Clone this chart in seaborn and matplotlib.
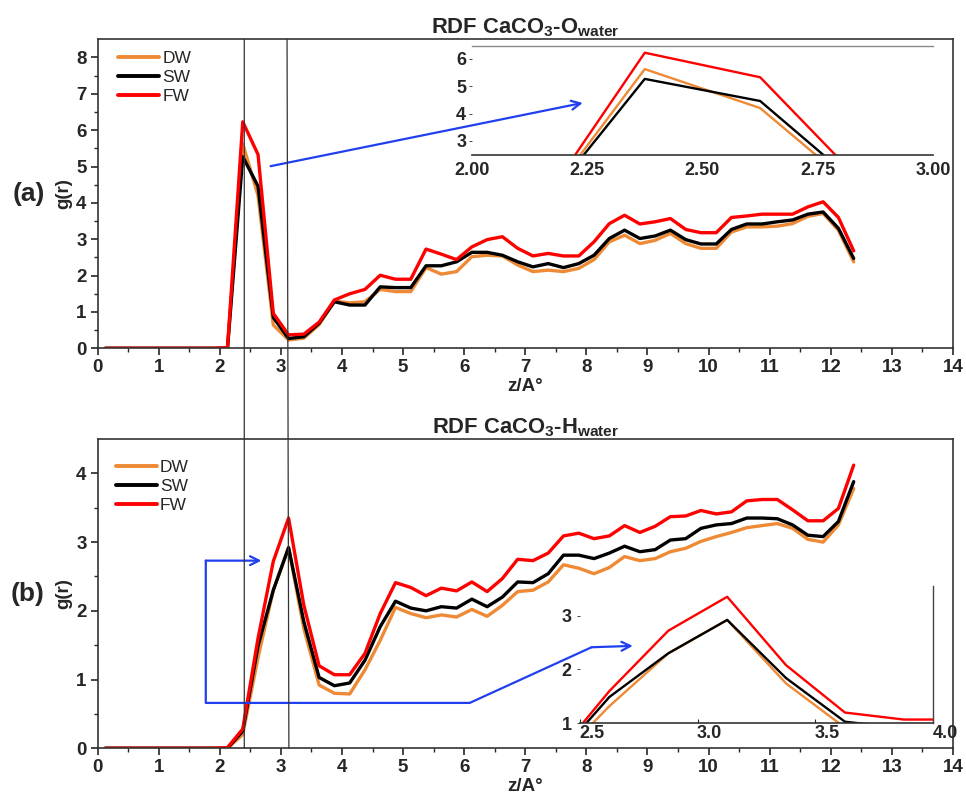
import numpy as np
import pandas as pd
import matplotlib
matplotlib.use("Agg")
import matplotlib.pyplot as plt
import seaborn as sns
from matplotlib.patches import ConnectionPatch
from matplotlib.transforms import ScaledTranslation

# ---------------- data ----------------
# distance grid (bin centres, Angstrom)
z = np.arange(0.125, 12.5, 0.25)

series = ["DW", "SW", "FW"]
colors = {"DW": "#EE8A35", "SW": "#000000", "FW": "#FF0000"}

# RDF CaCO3 - O(water)
o_dw = [0, 0, 0, 0, 0, 0, 0, 0, 0.0, 5.63, 4.20, 0.64, 0.23, 0.28, 0.65, 1.30,
        1.25, 1.28, 1.62, 1.56, 1.56, 2.22, 2.04, 2.11, 2.52, 2.56, 2.54, 2.29,
        2.11, 2.15, 2.11, 2.20, 2.44, 2.93, 3.11, 2.88, 2.97, 3.16, 2.88, 2.75,
        2.75, 3.20, 3.34, 3.34, 3.36, 3.43, 3.63, 3.71, 3.25, 2.38]
o_sw = [0, 0, 0, 0, 0, 0, 0, 0, 0.0, 5.27, 4.46, 0.85, 0.27, 0.32, 0.69, 1.28,
        1.19, 1.19, 1.69, 1.67, 1.67, 2.27, 2.27, 2.38, 2.64, 2.64, 2.56, 2.38,
        2.24, 2.33, 2.22, 2.33, 2.56, 3.02, 3.25, 3.02, 3.09, 3.25, 2.99, 2.87,
        2.87, 3.27, 3.42, 3.42, 3.48, 3.53, 3.69, 3.75, 3.30, 2.47]
o_fw = [0, 0, 0, 0, 0, 0, 0, 0, 0.02, 6.23, 5.33, 0.96, 0.37, 0.39, 0.72, 1.33,
        1.50, 1.62, 2.01, 1.90, 1.90, 2.73, 2.59, 2.44, 2.79, 2.99, 3.07, 2.75,
        2.54, 2.61, 2.54, 2.54, 2.93, 3.43, 3.66, 3.42, 3.48, 3.57, 3.27, 3.18,
        3.18, 3.60, 3.64, 3.69, 3.69, 3.69, 3.89, 4.03, 3.60, 2.68]

# RDF CaCO3 - H(water)
h_dw = [0, 0, 0, 0, 0, 0, 0, 0, 0.0, 0.20, 1.32, 2.30, 2.92, 1.74, 0.92, 0.80,
        0.79, 1.14, 1.57, 2.05, 1.96, 1.90, 1.94, 1.91, 2.02, 1.92, 2.08, 2.28,
        2.30, 2.42, 2.67, 2.62, 2.54, 2.63, 2.79, 2.73, 2.76, 2.86, 2.91, 3.01,
        3.08, 3.14, 3.21, 3.24, 3.27, 3.20, 3.04, 3.00, 3.25, 3.78]
h_sw = [0, 0, 0, 0, 0, 0, 0, 0, 0.0, 0.25, 1.49, 2.30, 2.92, 1.84, 1.03, 0.91,
        0.95, 1.28, 1.77, 2.14, 2.04, 2.00, 2.06, 2.04, 2.17, 2.06, 2.20, 2.42,
        2.41, 2.54, 2.81, 2.81, 2.76, 2.84, 2.94, 2.86, 2.89, 3.03, 3.05, 3.20,
        3.25, 3.27, 3.35, 3.35, 3.34, 3.25, 3.10, 3.08, 3.30, 3.88]
h_fw = [0, 0, 0, 0, 0, 0, 0, 0, 0.01, 0.28, 1.60, 2.72, 3.35, 2.08, 1.20, 1.07,
        1.07, 1.38, 1.96, 2.41, 2.34, 2.22, 2.33, 2.29, 2.42, 2.28, 2.47, 2.75,
        2.73, 2.84, 3.09, 3.13, 3.05, 3.09, 3.24, 3.14, 3.23, 3.37, 3.38, 3.46,
        3.41, 3.44, 3.60, 3.62, 3.62, 3.47, 3.31, 3.31, 3.49, 4.12]

x_ticks = list(range(0, 15))
o_yticks = list(range(0, 9))
h_yticks = list(range(0, 5))
o_inset_xticks = [2.00, 2.25, 2.50, 2.75, 3.00]
o_inset_yticks = [3, 4, 5, 6]
h_inset_xticks = [2.5, 3.0, 3.5, 4.0]
h_inset_yticks = [1, 2, 3]


def long_frame(dw, sw, fw):
    frames = []
    for name, vals in zip(series, (dw, sw, fw)):
        frames.append(pd.DataFrame({"z": z, "g": vals, "water": name}))
    return pd.concat(frames, ignore_index=True)


df_o = long_frame(o_dw, o_sw, o_fw)
df_h = long_frame(h_dw, h_sw, h_fw)

# ---------------- style ----------------
sns.set_style("ticks")
plt.rcParams["font.family"] = ["Liberation Sans", "DejaVu Sans"]
plt.rcParams["mathtext.default"] = "regular"
plt.rcParams["axes.linewidth"] = 1.2

fig = plt.figure(figsize=(9.66, 8.02), dpi=100)
ax1 = fig.add_axes([0.1011, 0.5657, 0.8854, 0.3853])
ax2 = fig.add_axes([0.1011, 0.0670, 0.8854, 0.3856])

TICK_FS = 13.5


def style_main(ax, df, ymax, yticks, title, tag, legend_anchor):
    sns.lineplot(data=df, x="z", y="g", hue="water", palette=colors,
                 hue_order=series, linewidth=2.4, ax=ax, sort=False)
    ax.set_xlim(0, 14)
    ax.set_ylim(0, ymax)
    ax.set_xticks(x_ticks)
    ax.set_yticks(yticks)
    ax.set_xticks(np.arange(0.5, 14, 1.0), minor=True)
    ax.set_yticks(np.arange(0.5, ymax, 1.0), minor=True)
    ax.tick_params(which="major", direction="out", length=5, width=1.2,
                   labelsize=TICK_FS, pad=3)
    ax.tick_params(which="minor", direction="out", length=3, width=1.0)
    for lbl in ax.get_xticklabels() + ax.get_yticklabels():
        lbl.set_fontweight("bold")
    for sp in ax.spines.values():
        sp.set_visible(True)
        sp.set_color("#333333")
    ax.set_xlabel("z/A°", fontsize=13.5, fontweight="bold", labelpad=1)
    ax.set_ylabel("g(r)", fontsize=13.5, fontweight="bold", labelpad=3)
    ax.set_title(title, fontsize=15.8, fontweight="bold", pad=4)
    ax.text(-0.062, 0.5, tag, transform=ax.transAxes, fontsize=19,
            fontweight="bold", ha="right", va="center")
    leg = ax.legend(loc="upper left", bbox_to_anchor=legend_anchor,
                    frameon=False, fontsize=12.5, handlelength=2.35,
                    handletextpad=0.2, labelspacing=0.22, borderaxespad=0)
    for h in leg.get_lines():
        h.set_linewidth(2.8)


style_main(ax1, df_o, 8.5, o_yticks, r"RDF CaCO$_3$-O$_{water}$", "(a)",
           (0.016, 0.985))
style_main(ax2, df_h, 4.5, h_yticks, r"RDF CaCO$_3$-H$_{water}$", "(b)",
           (0.013, 0.955))


def style_inset(ax, df, xlim, ylim, xticks, yticks, fmt):
    ax.set_facecolor("none")
    sns.lineplot(data=df, x="z", y="g", hue="water", palette=colors,
                 hue_order=series, linewidth=1.7, ax=ax, legend=False,
                 sort=False)
    ax.set_xlim(*xlim)
    ax.set_ylim(*ylim)
    ax.set_xticks(xticks)
    ax.set_xticklabels([fmt.format(v) for v in xticks])
    ax.set_yticks(yticks)
    ax.set_xlabel("")
    ax.set_ylabel("")
    ax.tick_params(labelsize=TICK_FS - 0.5, pad=2)
    for lbl in ax.get_xticklabels() + ax.get_yticklabels():
        lbl.set_fontweight("bold")


# inset: first O peak
ins1 = fig.add_axes([0.4883, 0.8064, 0.4778, 0.1367])
style_inset(ins1, df_o, (2.0, 3.0), (2.47, 6.49), o_inset_xticks,
            o_inset_yticks, "{:.2f}")
ins1.spines["left"].set_visible(False)
ins1.spines["right"].set_visible(False)
ins1.spines["top"].set_color("#888888")
ins1.spines["top"].set_linewidth(1.0)
ins1.spines["bottom"].set_color("#333333")
ins1.tick_params(axis="x", length=0, pad=5)
ins1.tick_params(axis="y", length=2, width=0.6, direction="out")

# inset: first H peak
ins2 = fig.add_axes([0.6004, 0.0981, 0.3657, 0.1712])
style_inset(ins2, df_h, (2.5, 4.0), (1.0, 3.55), h_inset_xticks,
            h_inset_yticks, "{:.1f}")
ins2.spines["left"].set_visible(False)
ins2.spines["top"].set_visible(False)
ins2.spines["right"].set_color("#444444")
ins2.spines["right"].set_linewidth(1.0)
ins2.spines["bottom"].set_color("#333333")
ins2.tick_params(axis="x", length=3, width=0.8, direction="in", pad=1)
ins2.tick_params(axis="y", length=2, width=0.6, direction="out", pad=4)
shift = ScaledTranslation(0.12, 0, fig.dpi_scale_trans)
for tick in ins2.xaxis.get_major_ticks():
    tick.label1.set_transform(tick.label1.get_transform() + shift)

# guide lines through both panels at the first peak and first minimum
for xa, xb in [(2.40, 2.40), (3.10, 3.13)]:
    con = ConnectionPatch(xyA=(xa, 8.5), coordsA=ax1.transData,
                          xyB=(xb, 0.0), coordsB=ax2.transData,
                          color="#333333", lw=0.9, zorder=5)
    fig.add_artist(con)

# pointers to the insets
blue = "#2040F0"
ax1.annotate("", xy=(7.94, 6.75), xytext=(2.83, 5.01),
             arrowprops=dict(arrowstyle="->", color=blue, lw=1.6,
                             shrinkA=0, shrinkB=0, mutation_scale=16),
             annotation_clip=False, zorder=6)

ax2.plot([1.77, 1.77, 6.09, 8.085], [2.73, 0.66, 0.66, 1.47], color=blue,
         lw=1.6, clip_on=False, zorder=6)
ax2.annotate("", xy=(2.68, 2.73), xytext=(1.77, 2.73),
             arrowprops=dict(arrowstyle="->", color=blue, lw=1.6,
                             shrinkA=0, shrinkB=0, mutation_scale=16),
             annotation_clip=False, zorder=6)
ax2.annotate("", xy=(8.76, 1.49), xytext=(8.085, 1.47),
             arrowprops=dict(arrowstyle="->", color=blue, lw=1.6,
                             shrinkA=0, shrinkB=0, mutation_scale=16),
             annotation_clip=False, zorder=6)

fig.savefig("out.png", dpi=100)
